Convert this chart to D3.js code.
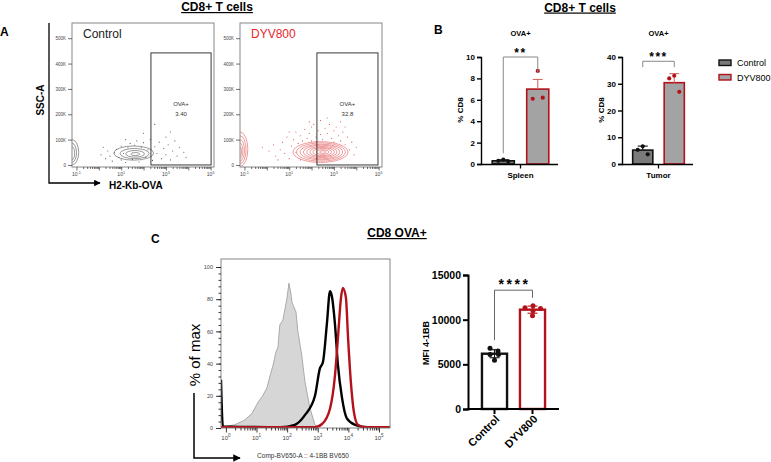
<!DOCTYPE html>
<html>
<head>
<meta charset="utf-8">
<script src="https://cdn.jsdelivr.net/npm/d3@7"></script>
<style>
  body { margin: 0; background: #fff; }
  svg { display: block; font-family: "Liberation Sans", Arial, sans-serif; }
</style>
</head>
<body>
<svg id="fig" width="771" height="462"></svg>
<script>
// ---------- data ----------
const groups = ["Control", "DYV800"];

// panel A: flow plots, x = log10(H2-Kb-OVA), y = SSC-A in K
const sscTicks = [0, 100, 200, 300, 400, 500];
const ovaDecades = [-1, 0, 1, 2, 3, 4, 5];
const ovaLabelled = [-1, 1, 3, 5];
const gatePct = ["3.40", "32.8"];
const ctrlGate = [2.33, 5.02, 0, 442];
const dyvGate = [2.24, 4.97, 0, 442];
// contour rings: [centre log, centre K, half-width decades, half-height K]
const ctrlRings = [[1.56, 47, 0.89, 28], [1.6, 45, 0.65, 20], [1.62, 44, 0.42, 13], [1.63, 43, 0.2, 6]];
const ctrlEdgeRings = [[-1.2, 50, 0.3, 50], [-1.2, 48, 0.2, 38], [-1.2, 46, 0.12, 26]];
const dyvRings = [[2.40, 51, 1.23, 41], [2.42, 51, 1.09, 36], [2.44, 51, 0.95, 31], [2.45, 51, 0.82, 27],
  [2.46, 51, 0.68, 22], [2.47, 51, 0.55, 18], [2.48, 51, 0.42, 14], [2.49, 51, 0.28, 9], [2.5, 51, 0.14, 5]];
const dyvEdgeRings = [[-1.2, 62, 0.35, 68], [-1.2, 60, 0.27, 55], [-1.2, 58, 0.2, 42], [-1.2, 56, 0.13, 30], [-1.2, 54, 0.07, 18]];
const ctrlDots = [[0.1, 40], [0.3, 25], [0.4, 55], [0.5, 35], [0.6, 15], [0.7, 48], [0.8, 62], [0.9, 30], [1.0, 20],
  [1.0, 75], [1.1, 45], [1.2, 10], [1.3, 68], [1.4, 85], [1.5, 22], [1.6, 78], [1.7, 95], [1.8, 12], [1.9, 70],
  [2.0, 88], [2.1, 30], [2.2, 60], [2.3, 100], [2.4, 18], [2.5, 72], [2.6, 45], [2.7, 90], [2.8, 25], [2.9, 65],
  [3.0, 110], [3.0, 40], [3.1, 80], [3.2, 20], [3.3, 55], [3.4, 95], [3.5, 35], [3.6, 70], [3.8, 50], [2.5, 160],
  [3.2, 130], [2.0, 125], [0.2, 70], [1.2, 100], [3.9, 30]];
const dyvDots = [[-0.2, 70], [0.1, 55], [0.3, 80], [0.4, 35], [0.6, 60], [0.7, 90], [0.8, 45], [0.9, 110], [1.0, 25],
  [1.1, 75], [1.2, 100], [1.3, 50], [1.3, 130], [1.4, 85], [1.5, 20], [1.5, 115], [1.6, 65], [1.7, 140], [1.8, 105],
  [1.9, 125], [2.0, 150], [2.0, 95], [2.1, 160], [2.2, 110], [2.3, 135], [2.4, 120], [2.4, 175], [2.5, 100],
  [2.6, 145], [2.7, 125], [2.8, 160], [2.9, 105], [3.0, 135], [3.0, 90], [3.1, 150], [3.2, 115], [3.3, 95],
  [3.4, 130], [3.5, 80], [3.6, 110], [3.7, 60], [3.8, 90], [3.9, 40], [4.0, 70], [3.3, 170], [2.7, 185],
  [1.9, 170], [0.5, 20], [1.0, 130], [3.5, 150], [2.2, 90], [1.6, 95]];

// panel B: % CD8 of OVA+
const spleenMeans = [0.3, 7.0];
const spleenErr = [0.1, 0.9];
const spleenPts = [[0.4, 0.3, 0.25], [8.7, 6.1, 6.2]];
const spleenTicks = [0, 2, 4, 6, 8, 10];
const tumorMeans = [5.2, 30.4];
const tumorErr = [1.5, 3.4];
const tumorPts = [[6.6, 5.3, 3.6], [33.0, 32.0, 27.0]];
const tumorTicks = [0, 10, 20, 30, 40];

// panel C: 4-1BB histogram, x = log10 intensity, y = % of max
const histDecades = [0, 1, 2, 3, 4, 5];
const histTicks = [0, 20, 40, 60, 80, 100];
const isoHist = [[-0.16, 0], [-0.13, 0.6], [0.29, 2], [0.62, 5], [0.85, 9], [1.05, 16], [1.2, 20], [1.34, 25],
  [1.45, 33], [1.54, 39], [1.63, 47], [1.7, 50], [1.76, 64], [1.86, 67], [1.99, 80], [2.06, 90], [2.12, 84],
  [2.16, 78], [2.29, 72], [2.35, 60], [2.48, 45], [2.58, 29], [2.75, 12], [2.91, 2], [3.0, 0]];
const ctrlHist = [[-0.16, 30], [-0.1, 1], [1.8, 0.5], [2.25, 2], [2.58, 8], [2.91, 20], [3.07, 37], [3.17, 41],
  [3.3, 65], [3.4, 85], [3.46, 82], [3.56, 65], [3.66, 39], [3.79, 19], [3.95, 6], [4.22, 2], [4.64, 0.5], [5.36, 0.5]];
const dyvHist = [[-0.16, 0.5], [2.9, 0.5], [3.14, 2.5], [3.4, 12], [3.56, 32], [3.66, 56], [3.76, 81], [3.82, 87],
  [3.92, 81], [3.99, 56], [4.08, 29], [4.18, 10], [4.31, 2], [4.54, 0.5], [5.36, 0.5]];

// panel C: MFI 4-1BB
const mfiMeans = [6190, 11120];
const mfiErr = [450, 400];
const mfiPts = [[6800, 6500, 6100, 6100, 5450], [11330, 11560, 11260, 11000, 10440]];
const mfiTicks = [0, 5000, 10000, 15000];

// ---------- drawing ----------
const svg = d3.select("#fig");
const red = "#b3121b";
const txt = (sel, x, y, s, size, weight) => sel.append("text").attr("x", x).attr("y", y)
  .attr("font-size", size).attr("font-weight", weight || "normal").text(s);

// power-of-ten label with superscript
function pow10(g, x, y, e, size, color) {
  const t = g.append("text").attr("x", x).attr("y", y).attr("text-anchor", "middle")
    .attr("font-size", size).attr("fill", color);
  t.append("tspan").text("10");
  t.append("tspan").attr("dy", -size * 0.5).attr("font-size", size * 0.75).text(e);
}

// titles and letters
txt(svg, 217, 11, "CD8+ T cells", 12, "bold").attr("text-anchor", "middle").attr("text-decoration", "underline");
txt(svg, 580, 11.5, "CD8+ T cells", 12, "bold").attr("text-anchor", "middle").attr("text-decoration", "underline");
txt(svg, 397, 237, "CD8 OVA+", 12, "bold").attr("text-anchor", "middle").attr("text-decoration", "underline");
txt(svg, 0, 36, "A", 12, "bold");
txt(svg, 434, 34, "B", 12, "bold");
txt(svg, 151, 243, "C", 12, "bold");

svg.append("defs").append("marker").attr("id", "arrow").attr("viewBox", "0 0 10 10")
  .attr("refX", 9).attr("refY", 5).attr("markerWidth", 5).attr("markerHeight", 5).attr("orient", "auto")
  .append("path").attr("d", "M0,0L10,5L0,10Z").attr("fill", "#000");

// ----- panel A -----
const flowXDomain = [-1.2, 5.15];
const flowYDomain = [-8, 560];

function flowPanel(cfg) {
  const w = 142, top = 23, bottom = 167;
  const x = d3.scaleLinear().domain(flowXDomain).range([cfg.left, cfg.left + w]);
  const y = d3.scaleLinear().domain(flowYDomain).range([bottom, top]);
  const g = svg.append("g");
  g.append("clipPath").attr("id", "clip-" + cfg.key).append("rect")
    .attr("x", cfg.left).attr("y", top).attr("width", w).attr("height", bottom - top);
  const plot = g.append("g").attr("clip-path", `url(#clip-${cfg.key})`);

  plot.selectAll("circle").data(cfg.dots).join("circle")
    .attr("cx", d => x(d[0])).attr("cy", d => y(d[1])).attr("r", 0.55).attr("fill", cfg.dotColor);
  plot.selectAll("ellipse").data(cfg.rings.concat(cfg.edge)).join("ellipse")
    .attr("cx", d => x(d[0])).attr("cy", d => y(d[1]))
    .attr("rx", d => x(d[0] + d[2]) - x(d[0])).attr("ry", d => y(0) - y(d[3]))
    .attr("fill", "none").attr("stroke", cfg.ringColor).attr("stroke-width", 0.6);

  g.append("rect").attr("x", cfg.left).attr("y", top).attr("width", w).attr("height", bottom - top)
    .attr("fill", "none").attr("stroke", "#888").attr("stroke-width", 1);

  const gt = cfg.gate;
  g.append("rect").attr("x", x(gt[0])).attr("y", y(gt[3]))
    .attr("width", x(gt[1]) - x(gt[0])).attr("height", y(gt[2]) - y(gt[3]))
    .attr("fill", "none").attr("stroke", "#222").attr("stroke-width", 0.9);
  const gx = (x(gt[0]) + x(gt[1])) / 2, gy = (y(gt[2]) + y(gt[3])) / 2;
  txt(g, gx, gy - 3, "OVA+", 6).attr("text-anchor", "middle").attr("fill", "#333");
  txt(g, gx, gy + 7, cfg.pct, 6).attr("text-anchor", "middle").attr("fill", "#333");

  txt(g, cfg.left + 11, 38, cfg.name, 12).attr("fill", cfg.nameColor);

  const yAx = g.append("g").attr("transform", `translate(${cfg.left},0)`)
    .call(d3.axisLeft(y).tickValues(sscTicks).tickSize(4).tickPadding(2)
      .tickFormat(d => d === 0 ? "0" : d + "K"));
  yAx.select(".domain").remove();
  yAx.selectAll("text").attr("font-size", 4.5).attr("fill", "#444");

  const minors = [];
  ovaDecades.slice(0, -1).forEach(d => d3.range(2, 10).forEach(k => minors.push(d + Math.log10(k))));
  const xMin = g.append("g").attr("transform", `translate(0,${bottom})`)
    .call(d3.axisBottom(x).tickValues(minors).tickSize(2).tickFormat(""));
  const xMaj = g.append("g").attr("transform", `translate(0,${bottom})`)
    .call(d3.axisBottom(x).tickValues(ovaDecades).tickSize(3.5).tickFormat(""));
  xMin.select(".domain").remove();
  xMaj.select(".domain").remove();
  g.selectAll(".tick line").attr("stroke", "#333").attr("stroke-width", 0.7);
  ovaLabelled.forEach(e => pow10(g, x(e), bottom + 9, e, 5, "#444"));
}

flowPanel({ key: "ctrl", name: "Control", nameColor: "#222", left: 72, rings: ctrlRings, edge: ctrlEdgeRings,
  dots: ctrlDots, gate: ctrlGate, pct: gatePct[0], ringColor: "#555", dotColor: "#555" });
flowPanel({ key: "dyv", name: "DYV800", nameColor: "#e8262b", left: 240, rings: dyvRings, edge: dyvEdgeRings,
  dots: dyvDots, gate: dyvGate, pct: gatePct[1], ringColor: "#e25a5a", dotColor: "#e04848" });

// flow axis arrow and labels
svg.append("path").attr("d", "M49,23V183H100").attr("fill", "none").attr("stroke", "#000")
  .attr("stroke-width", 1.3).attr("marker-end", "url(#arrow)");
txt(svg, 0, 0, "SSC-A", 10, "bold").attr("text-anchor", "middle")
  .attr("transform", "translate(44,100) rotate(-90)");
txt(svg, 109, 189, "H2-Kb-OVA", 10, "bold");

// ----- panel B -----
function pctChart(cfg) {
  const g = svg.append("g");
  const x = d3.scaleBand().domain(groups).range(cfg.band).paddingInner(0.36).paddingOuter(0.18);
  const y = d3.scaleLinear().domain([0, cfg.max]).range([164, 57]);
  const cx = d => x(d) + x.bandwidth() / 2;

  g.selectAll("rect.bar").data(groups).join("rect").attr("class", "bar")
    .attr("x", d => x(d)).attr("width", x.bandwidth())
    .attr("y", (d, i) => y(cfg.means[i])).attr("height", (d, i) => y(0) - y(cfg.means[i]))
    .attr("fill", (d, i) => i ? "#a3a3a3" : "#7a7a7a")
    .attr("stroke", (d, i) => i ? red : "#111").attr("stroke-width", 1.6);

  const eb = g.selectAll("g.err").data(groups).join("g").attr("class", "err")
    .attr("stroke", (d, i) => i ? "#d86a6a" : "#111").attr("stroke-width", 1.1);
  eb.append("line").attr("x1", cx).attr("x2", cx)
    .attr("y1", (d, i) => y(cfg.means[i])).attr("y2", (d, i) => y(cfg.means[i] + cfg.err[i]));
  eb.append("line").attr("x1", d => cx(d) - 5).attr("x2", d => cx(d) + 5)
    .attr("y1", (d, i) => y(cfg.means[i] + cfg.err[i])).attr("y2", (d, i) => y(cfg.means[i] + cfg.err[i]));

  const jitter = [0, -5, 5];
  groups.forEach((gr, i) => {
    g.selectAll(null).data(cfg.pts[i]).join("circle")
      .attr("cx", (d, j) => cx(gr) + jitter[j]).attr("cy", d => y(d)).attr("r", 2.1)
      .attr("fill", i ? red : "#111");
  });

  const yAx = g.append("g").attr("transform", `translate(${cfg.band[0] - 5},0)`)
    .call(d3.axisLeft(y).tickValues(cfg.ticks).tickSize(4).tickPadding(2));
  yAx.select(".domain").attr("stroke-width", 1.4);
  yAx.selectAll(".tick line").attr("stroke-width", 1.4);
  yAx.selectAll("text").attr("font-size", 8).attr("font-weight", "bold").attr("fill", "#000");

  const axX = cfg.band[0] - 5, axR = cfg.band[1] + 3;
  g.append("line").attr("x1", axX).attr("x2", axR).attr("y1", 164.5).attr("y2", 164.5)
    .attr("stroke", "#000").attr("stroke-width", 1.4);
  const mid = (axX + axR) / 2 + 1;
  g.append("line").attr("x1", mid).attr("x2", mid).attr("y1", 164).attr("y2", 168.5)
    .attr("stroke", "#000").attr("stroke-width", 1.3);
  txt(g, mid, 178, cfg.tissue, 8, "bold").attr("text-anchor", "middle");
  txt(g, mid, 36, "OVA+", 7.5, "bold").attr("text-anchor", "middle");
  txt(g, 0, 0, "% CD8", 8, "bold").attr("text-anchor", "middle")
    .attr("transform", `translate(${axX - 18},110) rotate(-90)`);

  // significance bracket
  const b = cfg.bracket;
  g.append("path").attr("d", `M${cx(groups[0])},${y(b[1])}V${y(b[0])}H${cx(groups[1])}V${y(b[2])}`)
    .attr("fill", "none").attr("stroke", "#888").attr("stroke-width", 1);
  txt(g, (cx(groups[0]) + cx(groups[1])) / 2, y(b[0]) - 0.5, cfg.stars, 12, "bold")
    .attr("text-anchor", "middle").attr("letter-spacing", 1.5);
}

pctChart({ band: [486, 555], max: 10, ticks: spleenTicks, means: spleenMeans, err: spleenErr, pts: spleenPts,
  tissue: "Spleen", bracket: [10, 1.0, 8.5], stars: "**" });
pctChart({ band: [627, 690], max: 40, ticks: tumorTicks, means: tumorMeans, err: tumorErr, pts: tumorPts,
  tissue: "Tumor", bracket: [38.4, 36.2, 36.2], stars: "***" });

// legend
const leg = svg.append("g").selectAll("g").data(groups).join("g")
  .attr("transform", (d, i) => `translate(719,${60 + i * 14.5})`);
leg.append("rect").attr("width", 12).attr("height", 5.5)
  .attr("fill", (d, i) => i ? "#a3a3a3" : "#7a7a7a").attr("stroke", (d, i) => i ? red : "#111").attr("stroke-width", 1.4);
leg.append("text").attr("x", 18).attr("y", 6).attr("font-size", 9).text(d => d);

// ----- panel C histogram -----
(function () {
  const left = 221, right = 390, top = 259, bottom = 428;
  const x = d3.scaleLinear().domain([-0.16, 5.36]).range([left, right]);
  const y = d3.scaleLinear().domain([0, 100]).range([bottom, 267]);
  const g = svg.append("g");
  g.append("clipPath").attr("id", "clip-hist").append("rect")
    .attr("x", left).attr("y", top).attr("width", right - left).attr("height", bottom - top);
  const plot = g.append("g").attr("clip-path", "url(#clip-hist)");

  const area = d3.area().x(d => x(d[0])).y0(y(0)).y1(d => y(d[1]));
  const line = d3.line().x(d => x(d[0])).y(d => y(d[1])).curve(d3.curveMonotoneX);
  plot.append("path").datum(isoHist).attr("d", area).attr("fill", "#d6d6d6").attr("stroke", "#9a9a9a").attr("stroke-width", 0.8);
  plot.append("path").datum(ctrlHist).attr("d", line).attr("fill", "none").attr("stroke", "#000").attr("stroke-width", 2.4);
  plot.append("path").datum(dyvHist).attr("d", line).attr("fill", "none").attr("stroke", red).attr("stroke-width", 2.4);

  g.append("rect").attr("x", left).attr("y", top).attr("width", right - left).attr("height", bottom - top)
    .attr("fill", "none").attr("stroke", "#777").attr("stroke-width", 0.9);

  const yMin = g.append("g").attr("transform", `translate(${left},0)`)
    .call(d3.axisLeft(y).tickValues(d3.range(0, 101, 4)).tickSize(2.5).tickFormat(""));
  const yMaj = g.append("g").attr("transform", `translate(${left},0)`)
    .call(d3.axisLeft(y).tickValues(histTicks).tickSize(5).tickPadding(3));
  yMin.select(".domain").remove();
  yMaj.select(".domain").remove();
  yMaj.selectAll("text").attr("font-size", 5.5).attr("fill", "#444");

  const minors = [];
  histDecades.slice(0, -1).forEach(d => d3.range(2, 10).forEach(k => minors.push(d + Math.log10(k))));
  const xMin = g.append("g").attr("transform", `translate(0,${bottom})`)
    .call(d3.axisBottom(x).tickValues(minors).tickSize(2.5).tickFormat(""));
  const xMaj = g.append("g").attr("transform", `translate(0,${bottom})`)
    .call(d3.axisBottom(x).tickValues(histDecades).tickSize(4.5).tickFormat(""));
  xMin.select(".domain").remove();
  xMaj.select(".domain").remove();
  g.selectAll(".tick line").attr("stroke", "#222").attr("stroke-width", 0.9);
  histDecades.forEach(e => pow10(g, x(e), 440, e, 6, "#444"));

  svg.append("path").attr("d", "M194,393V458H240").attr("fill", "none").attr("stroke", "#000")
    .attr("stroke-width", 1.5).attr("marker-end", "url(#arrow)");
  txt(svg, 0, 0, "% of max", 15).attr("text-anchor", "middle")
    .attr("transform", "translate(200,355) rotate(-90)");
  txt(svg, 303, 458, "Comp-BV650-A :: 4-1BB BV650", 6.5).attr("text-anchor", "middle").attr("fill", "#333");
})();

// ----- panel C MFI bars -----
(function () {
  const g = svg.append("g");
  const x = d3.scaleBand().domain(groups).range([475.5, 551.5]).paddingInner(0.34).paddingOuter(0.17);
  const y = d3.scaleLinear().domain([0, 15000]).range([409, 275]);
  const cx = d => x(d) + x.bandwidth() / 2;

  g.selectAll("rect").data(groups).join("rect")
    .attr("x", d => x(d)).attr("width", x.bandwidth())
    .attr("y", (d, i) => y(mfiMeans[i])).attr("height", (d, i) => y(0) - y(mfiMeans[i]))
    .attr("fill", "#fff").attr("stroke", (d, i) => i ? red : "#111").attr("stroke-width", 2.4);

  const eb = g.selectAll("g.err").data(groups).join("g").attr("class", "err")
    .attr("stroke", (d, i) => i ? red : "#111").attr("stroke-width", 1.1);
  eb.append("line").attr("x1", cx).attr("x2", cx)
    .attr("y1", (d, i) => y(mfiMeans[i] - mfiErr[i])).attr("y2", (d, i) => y(mfiMeans[i] + mfiErr[i]));
  eb.append("line").attr("x1", d => cx(d) - 5).attr("x2", d => cx(d) + 5)
    .attr("y1", (d, i) => y(mfiMeans[i] + mfiErr[i])).attr("y2", (d, i) => y(mfiMeans[i] + mfiErr[i]));
  eb.append("line").attr("x1", d => cx(d) - 5).attr("x2", d => cx(d) + 5)
    .attr("y1", (d, i) => y(mfiMeans[i] - mfiErr[i])).attr("y2", (d, i) => y(mfiMeans[i] - mfiErr[i]));

  const jitter = [[-4.5, 3.5, -4.5, 4, 0], [-7.5, 0.5, 8, 0.5, 0]];
  groups.forEach((gr, i) => {
    g.selectAll(null).data(mfiPts[i]).join("circle")
      .attr("cx", (d, j) => cx(gr) + jitter[i][j]).attr("cy", d => y(d)).attr("r", 2.5)
      .attr("fill", i ? red : "#111");
  });

  const yAx = g.append("g").attr("transform", "translate(468,0)")
    .call(d3.axisLeft(y).tickValues(mfiTicks).tickSize(5).tickPadding(2).tickFormat(d3.format("d")));
  yAx.select(".domain").attr("stroke-width", 2);
  yAx.selectAll(".tick line").attr("stroke-width", 2);
  yAx.selectAll("text").attr("font-size", 10.5).attr("font-weight", "bold").attr("fill", "#000");

  const xAx = g.append("g").attr("transform", "translate(0,409)")
    .call(d3.axisBottom(x).tickSize(5).tickSizeOuter(0).tickPadding(2));
  xAx.select(".domain").attr("d", "M467,0H559").attr("stroke-width", 2);
  xAx.selectAll(".tick line").attr("stroke-width", 2);
  xAx.selectAll("text").attr("font-size", 11).attr("font-weight", "bold").attr("fill", "#000")
    .attr("text-anchor", "end").attr("transform", "translate(3,8) rotate(-45)").attr("dy", "0.35em").attr("y", 0);

  txt(g, 0, 0, "MFI 4-1BB", 9, "bold").attr("text-anchor", "middle")
    .attr("transform", "translate(429,343) rotate(-90)");

  g.append("path").attr("d", `M${cx(groups[0])},${y(7700)}V${y(13300)}H${cx(groups[1])}V${y(12450)}`)
    .attr("fill", "none").attr("stroke", "#666").attr("stroke-width", 1);
  txt(g, (cx(groups[0]) + cx(groups[1])) / 2 + 1, 289, "****", 14, "bold")
    .attr("text-anchor", "middle").attr("letter-spacing", 2.5);
})();
</script>
</body>
</html>
